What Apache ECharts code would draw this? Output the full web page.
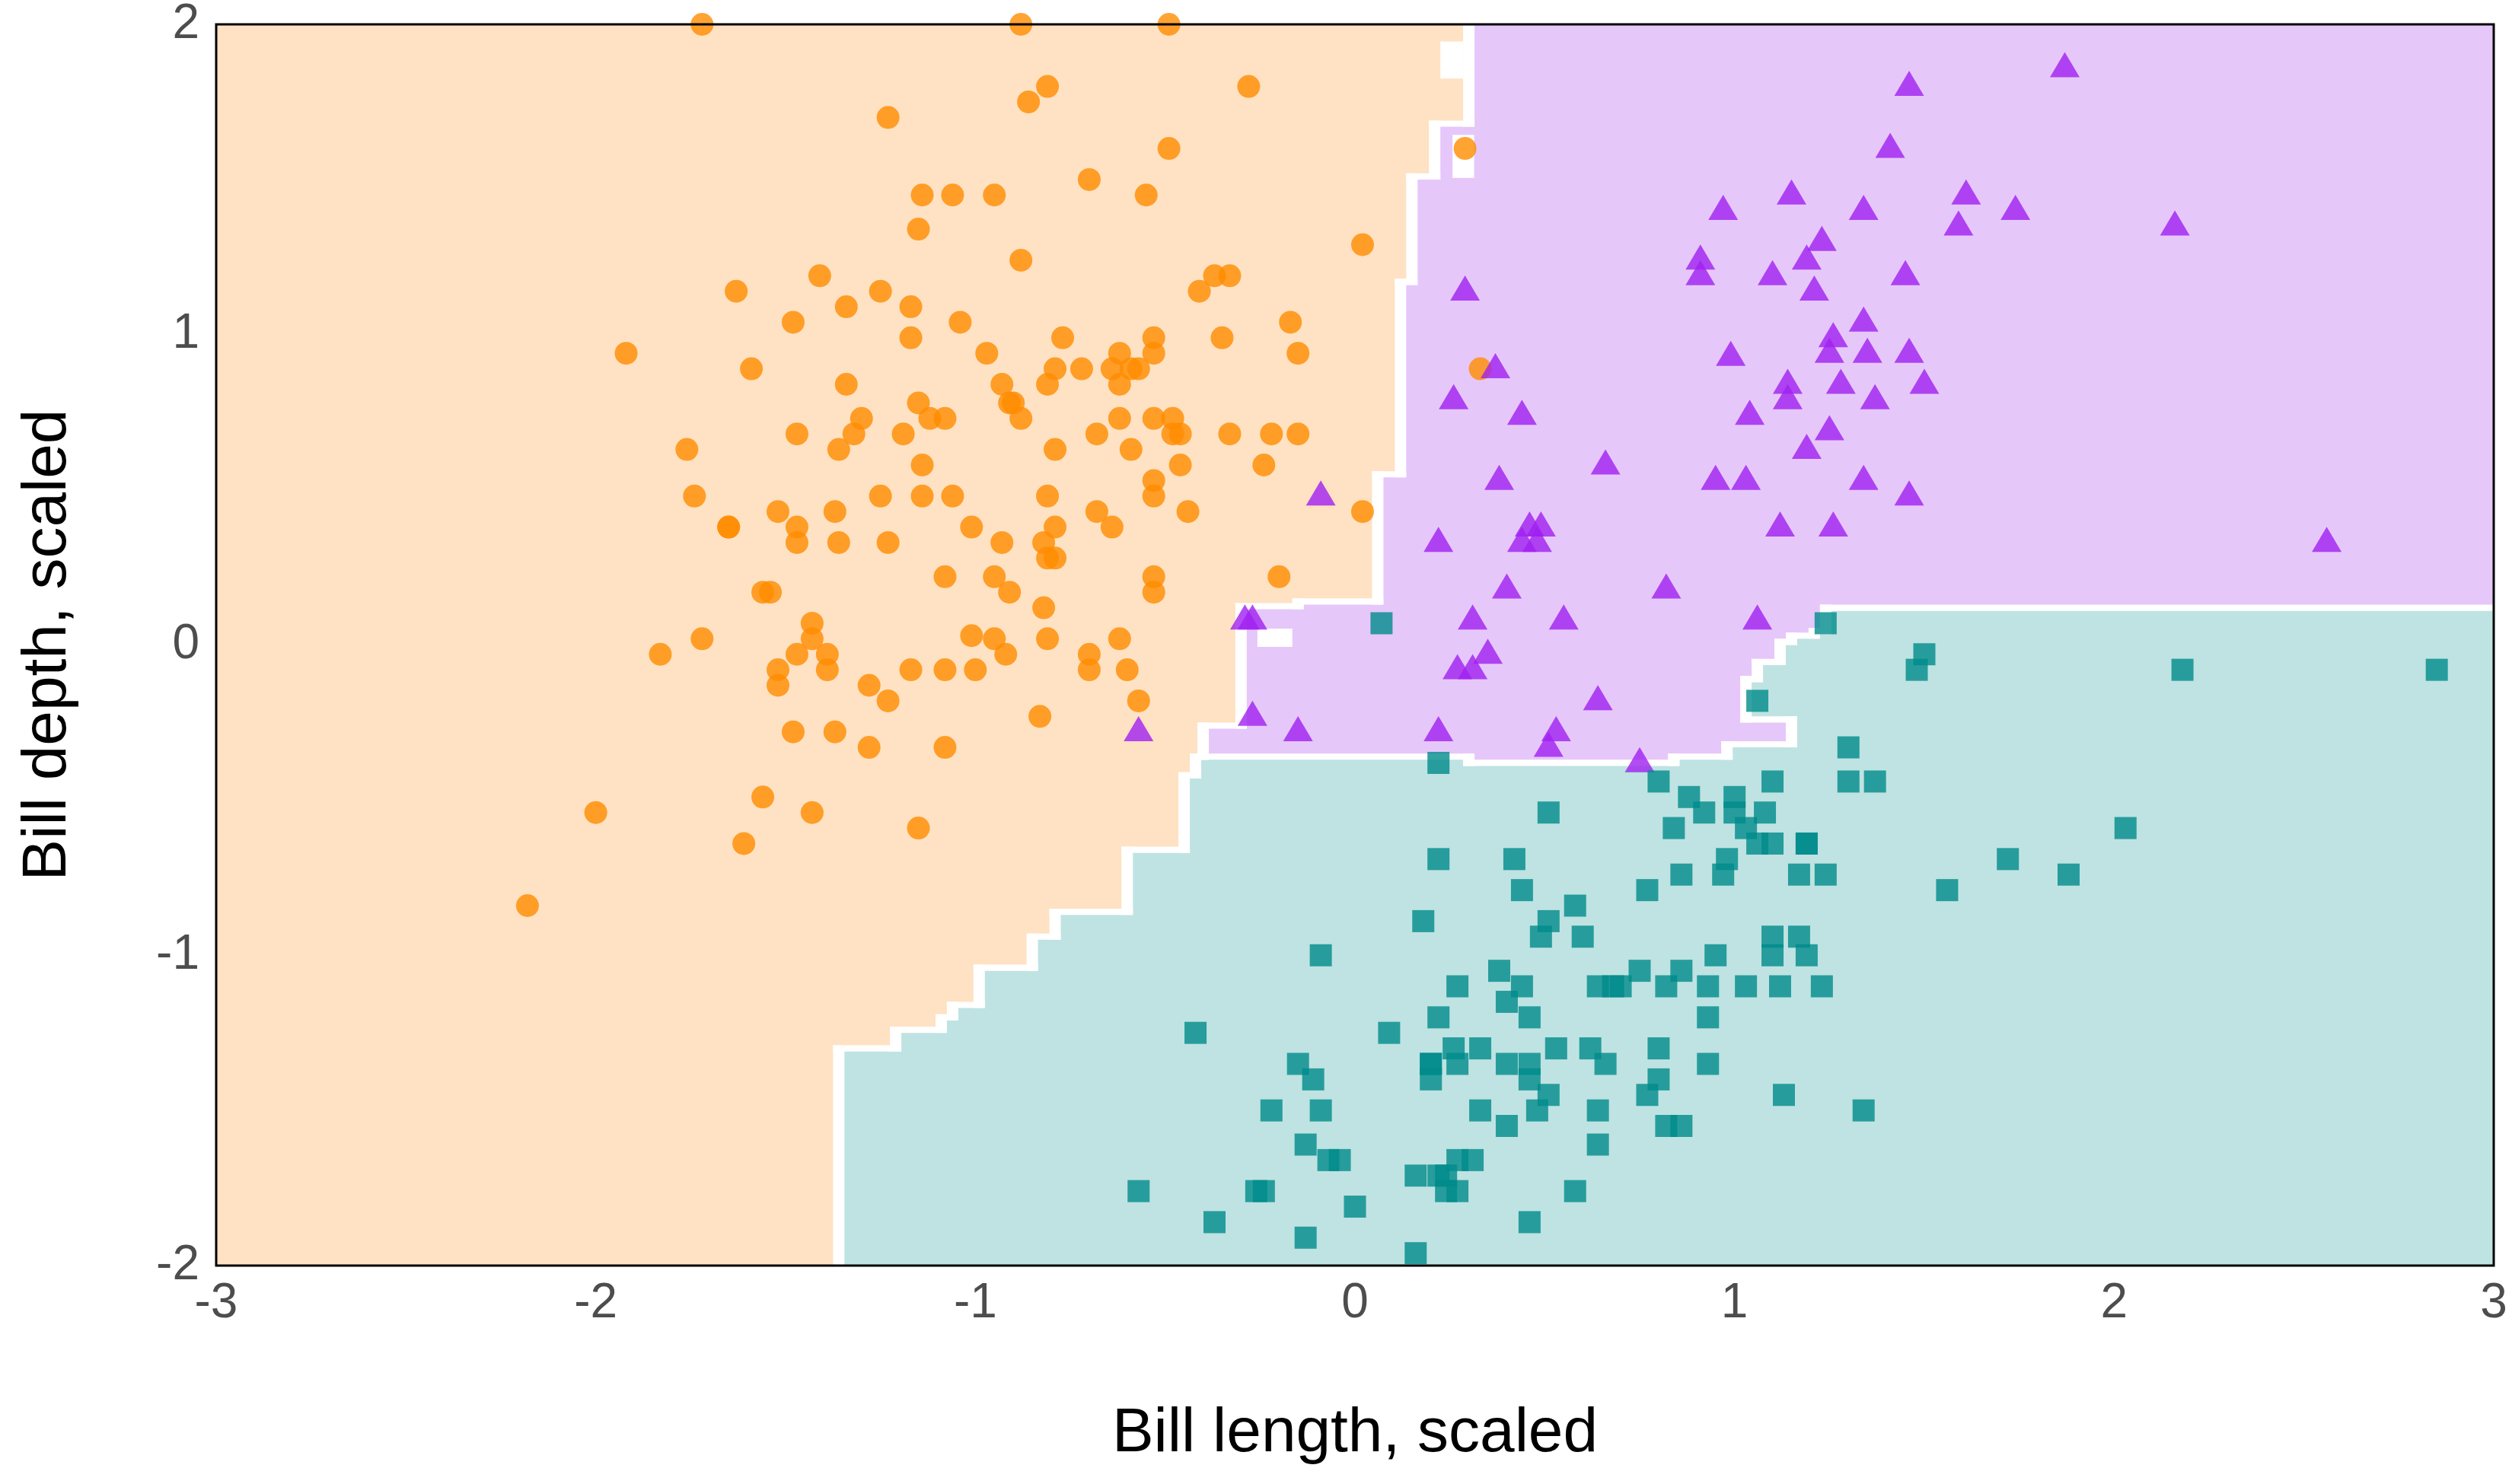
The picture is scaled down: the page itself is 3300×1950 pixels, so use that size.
<!DOCTYPE html>
<html>
<head>
<meta charset="utf-8">
<title>Penguin species decision regions</title>
<script src="https://cdn.jsdelivr.net/npm/echarts@6/dist/echarts.min.js"></script>
<style>
    html, body { margin: 0; padding: 0; background: #ffffff; }
    #chart { width: 3300px; height: 1950px; }
</style>
</head>
<body>
<div id="chart"></div>
<script>
// Scaled bill length (x) / bill depth (y) per species
const adelie = [
    [-1.72, 2.00], [-1.23, 1.70], [-1.14, 1.45], [-1.06, 1.45], [-1.15, 1.34], [-1.41, 1.19], [-1.63, 1.14],
    [-1.25, 1.14], [-1.34, 1.09], [-1.17, 1.09], [-1.48, 1.04], [-1.04, 1.04], [-1.17, 0.99], [-1.92, 0.94],
    [-1.59, 0.89], [-1.34, 0.84], [-1.15, 0.78], [-1.30, 0.73], [-1.12, 0.73], [-1.08, 0.73], [-1.47, 0.68],
    [-1.32, 0.68], [-1.19, 0.68], [-1.76, 0.63], [-1.36, 0.63], [-1.14, 0.58], [-1.74, 0.48], [-1.25, 0.48],
    [-1.14, 0.48], [-1.06, 0.48], [-1.52, 0.43], [-1.37, 0.43], [-1.65, 0.38], [-1.65, 0.38], [-1.47, 0.38],
    [-1.01, 0.38], [-1.47, 0.33], [-1.36, 0.33], [-1.23, 0.33], [-1.08, 0.22], [-1.56, 0.17], [-1.54, 0.17],
    [-1.43, 0.07], [-1.43, 0.02], [-1.72, 0.02], [-1.01, 0.03],
    [-0.88, 2.00], [-0.49, 2.00], [-0.81, 1.80], [-0.86, 1.75], [-0.28, 1.80], [-0.49, 1.60], [0.29, 1.60],
    [-0.70, 1.50], [-0.95, 1.45], [-0.55, 1.45], [0.02, 1.29], [-0.88, 1.24], [-0.37, 1.19], [-0.33, 1.19],
    [-0.41, 1.14], [-0.17, 1.04], [-0.77, 0.99], [-0.53, 0.99], [-0.35, 0.99], [-0.97, 0.94], [-0.62, 0.94],
    [-0.53, 0.94], [-0.15, 0.94], [-0.79, 0.89], [-0.72, 0.89], [-0.64, 0.89], [-0.59, 0.89], [-0.57, 0.89],
    [-0.93, 0.84], [-0.81, 0.84], [-0.62, 0.84], [-0.91, 0.78], [-0.90, 0.78], [-0.88, 0.73], [-0.62, 0.73],
    [-0.53, 0.73], [-0.48, 0.73], [-0.68, 0.68], [-0.48, 0.68], [-0.46, 0.68], [-0.33, 0.68], [-0.22, 0.68],
    [-0.15, 0.68], [-0.79, 0.63], [-0.59, 0.63], [-0.46, 0.58], [-0.24, 0.58], [-0.53, 0.53], [-0.53, 0.48],
    [-0.81, 0.48], [-0.68, 0.43], [-0.44, 0.43], [0.02, 0.43], [-0.79, 0.38], [-0.64, 0.38], [-0.93, 0.33],
    [-0.82, 0.33], [-0.81, 0.28], [-0.79, 0.28], [-0.95, 0.22], [-0.53, 0.22], [-0.20, 0.22], [-0.91, 0.17],
    [-0.53, 0.17], [-0.82, 0.12], [-0.95, 0.02], [-0.81, 0.02], [-0.62, 0.02], [0.33, 0.89],
    [-1.83, -0.03], [-1.47, -0.03], [-1.39, -0.03], [-1.52, -0.08], [-1.39, -0.08], [-1.17, -0.08],
    [-1.08, -0.08], [-1.00, -0.08], [-1.52, -0.13], [-1.28, -0.13], [-1.23, -0.18], [-1.48, -0.28],
    [-1.37, -0.28], [-1.28, -0.33], [-1.08, -0.33], [-1.56, -0.49], [-2.00, -0.54], [-1.43, -0.54],
    [-1.15, -0.59], [-1.61, -0.64], [-2.18, -0.84],
    [-0.92, -0.03], [-0.70, -0.03], [-0.70, -0.08], [-0.60, -0.08], [-0.57, -0.18], [-0.83, -0.23],
];

const chinstrap = [
    [0.97, 1.41], [0.91, 1.25], [0.91, 1.20], [0.29, 1.15], [0.99, 0.94], [0.37, 0.90], [0.26, 0.80],
    [0.44, 0.75], [0.66, 0.59], [0.38, 0.54], [0.95, 0.54], [0.46, 0.39], [0.49, 0.39], [0.22, 0.34],
    [0.44, 0.34], [0.48, 0.34], [0.40, 0.19], [0.82, 0.19], [-0.29, 0.09], [-0.27, 0.09], [0.31, 0.09],
    [0.55, 0.09], [-0.09, 0.49],
    [1.46, 1.81], [1.87, 1.87], [1.41, 1.61], [1.15, 1.46], [1.61, 1.46], [1.34, 1.41], [1.74, 1.41],
    [1.59, 1.36], [2.16, 1.36], [1.23, 1.31], [1.19, 1.25], [1.10, 1.20], [1.45, 1.20], [1.21, 1.15],
    [1.34, 1.05], [1.26, 1.00], [1.25, 0.95], [1.35, 0.95], [1.46, 0.95], [1.14, 0.85], [1.28, 0.85],
    [1.50, 0.85], [1.14, 0.80], [1.37, 0.80], [1.04, 0.75], [1.25, 0.70], [1.19, 0.64], [1.03, 0.54],
    [1.34, 0.54], [1.46, 0.49], [1.12, 0.39], [1.26, 0.39], [2.56, 0.34], [1.06, 0.09],
    [0.35, -0.02], [0.27, -0.07], [0.31, -0.07], [0.64, -0.17], [-0.27, -0.22], [-0.15, -0.27],
    [0.22, -0.27], [0.53, -0.27], [0.51, -0.32], [0.75, -0.37], [-0.57, -0.27],
];

const gentoo = [
    [0.07, 0.07], [1.24, 0.07],
    [0.22, -0.38], [0.80, -0.44], [0.88, -0.49], [0.92, -0.54], [0.51, -0.54], [0.84, -0.59], [0.22, -0.69],
    [0.42, -0.69], [0.98, -0.69], [0.86, -0.74], [0.97, -0.74], [0.44, -0.79], [0.77, -0.79], [0.58, -0.84],
    [0.51, -0.89], [0.18, -0.89], [0.49, -0.94], [0.60, -0.94], [-0.09, -1.00], [0.95, -1.00], [0.38, -1.05],
    [0.75, -1.05], [0.86, -1.05], [0.27, -1.10], [0.44, -1.10], [0.64, -1.10], [0.68, -1.10], [0.70, -1.10],
    [0.82, -1.10], [0.93, -1.10], [0.40, -1.15], [0.22, -1.20], [0.46, -1.20], [0.93, -1.20], [-0.42, -1.25],
    [0.09, -1.25], [0.26, -1.30], [0.33, -1.30], [0.53, -1.30], [0.62, -1.30], [0.80, -1.30], [-0.15, -1.35],
    [0.20, -1.35], [0.20, -1.35], [0.27, -1.35], [0.40, -1.35], [0.46, -1.35], [0.66, -1.35], [0.93, -1.35],
    [-0.11, -1.40], [0.20, -1.40], [0.46, -1.40], [0.80, -1.40], [0.51, -1.45], [0.77, -1.45], [-0.22, -1.50],
    [-0.09, -1.50], [0.33, -1.50], [0.48, -1.50], [0.64, -1.50], [0.40, -1.55], [0.82, -1.55], [0.86, -1.55],
    [-0.13, -1.61], [0.64, -1.61], [-0.07, -1.66], [-0.04, -1.66], [0.27, -1.66], [0.31, -1.66], [0.16, -1.71],
    [0.22, -1.71], [0.24, -1.71], [-0.57, -1.76], [-0.26, -1.76], [-0.24, -1.76], [0.24, -1.76], [0.27, -1.76],
    [0.58, -1.76], [0.00, -1.81], [-0.37, -1.86], [0.46, -1.86], [-0.13, -1.91], [0.16, -1.96],
    [1.50, -0.03], [1.48, -0.08], [2.18, -0.08], [2.85, -0.08], [1.06, -0.18], [1.30, -0.33], [1.10, -0.44],
    [1.30, -0.44], [1.37, -0.44], [1.00, -0.49], [1.00, -0.54], [1.03, -0.59], [1.08, -0.54], [1.06, -0.64],
    [1.10, -0.64], [1.19, -0.64], [1.19, -0.64], [2.03, -0.59], [1.72, -0.69], [1.17, -0.74], [1.24, -0.74],
    [1.88, -0.74], [1.56, -0.79], [1.10, -0.94], [1.17, -0.94], [1.10, -1.00], [1.19, -1.00], [1.03, -1.10],
    [1.12, -1.10], [1.23, -1.10], [1.13, -1.45], [1.34, -1.50],
];

// Decision boundaries of the classifier grid (cell centres of the white border cells)
// orange | purple, from the top edge down to the three-way junction
const adelieEdge = [
    [0.30, 2.00], [0.30, 1.68], [0.21, 1.68], [0.21, 1.51], [0.15, 1.51], [0.15, 1.17], [0.12, 1.17],
    [0.12, 0.55], [0.06, 0.55], [0.06, 0.14], [-0.15, 0.14], [-0.15, 0.125], [-0.30, 0.125], [-0.30, -0.26],
    [-0.40, -0.26], [-0.40, -0.36],
];
// orange | teal, junction down to the bottom edge
const lowerLeftEdge = [
    [-0.40, -0.36], [-0.42, -0.36], [-0.42, -0.42], [-0.45, -0.42], [-0.45, -0.66], [-0.60, -0.66],
    [-0.60, -0.86], [-0.79, -0.86], [-0.79, -0.94], [-0.85, -0.94], [-0.85, -1.04], [-0.99, -1.04],
    [-0.99, -1.16], [-1.06, -1.16], [-1.06, -1.20], [-1.09, -1.20], [-1.09, -1.24], [-1.21, -1.24],
    [-1.21, -1.30], [-1.36, -1.30], [-1.36, -2.00],
];
// purple | teal, junction across to the right edge
const lowerRightEdge = [
    [-0.40, -0.36], [0.30, -0.36], [0.30, -0.38], [0.84, -0.38], [0.84, -0.36], [0.98, -0.36], [0.98, -0.32],
    [1.15, -0.32], [1.15, -0.24], [1.03, -0.24], [1.03, -0.11], [1.06, -0.11], [1.06, -0.055], [1.12, -0.055],
    [1.12, 0.01], [1.15, 0.01], [1.15, 0.03], [1.21, 0.03], [1.21, 0.045], [1.24, 0.045], [1.24, 0.12],
    [3.00, 0.12],
];
// loose white cells [x0, y0, x1, y1]
const whiteBlocks = [
    [0.225, 1.825, 0.285, 1.945],
    [0.257, 1.505, 0.314, 1.644],
    [-0.257, -0.006, -0.165, 0.053],
];

const xMin = -3, xMax = 3, yMin = -2, yMax = 2;
const cellHalfX = 0.015, cellHalfY = 0.01;

const lineColors = { adelie: "#ff8c00", chinstrap: "#a020f0", gentoo: "#008b8b" };
const regionColors = { adelie: "#fee2c3", chinstrap: "#e6c7fa", gentoo: "#bfe3e2" };

const rev = (arr) => arr.slice().reverse();

const regions = [
    { color: regionColors.adelie,
      points: [[xMin, yMax], ...adelieEdge, ...lowerLeftEdge.slice(1), [xMin, yMin]] },
    { color: regionColors.chinstrap,
      points: [[xMax, yMax], ...rev(lowerRightEdge), ...rev(adelieEdge.slice(0, -1))] },
    { color: regionColors.gentoo,
      points: [...lowerRightEdge, [xMax, yMin], ...rev(lowerLeftEdge.slice(1))] },
];

const edgeSegments = [];
for (const path of [adelieEdge, lowerLeftEdge, lowerRightEdge]) {
    for (let i = 1; i < path.length; i++) {
        edgeSegments.push([path[i - 1][0], path[i - 1][1], path[i][0], path[i][1]]);
    }
}

function whiteRect(api, x0, y0, x1, y1, padX, padY) {
    const a = api.coord([Math.min(x0, x1) - padX, Math.max(y0, y1) + padY]);
    const b = api.coord([Math.max(x0, x1) + padX, Math.min(y0, y1) - padY]);
    return {
        type: "rect",
        shape: { x: a[0], y: a[1], width: b[0] - a[0], height: b[1] - a[1] },
        style: { fill: "#ffffff" },
    };
}

const textFont = "Liberation Sans, Arial, sans-serif";

const chart = echarts.init(document.getElementById("chart"), null, { renderer: "canvas" });

chart.setOption({
    animation: false,
    backgroundColor: "#ffffff",
    textStyle: { fontFamily: textFont },
    grid: {
        left: 284, right: 24, top: 24, bottom: 287,
        show: true, borderColor: "#000000", borderWidth: 3,
        backgroundColor: "transparent", z: 10,
    },
    xAxis: {
        type: "value", min: xMin, max: xMax, interval: 1,
        name: "Bill length, scaled", nameLocation: "middle", nameGap: 180,
        nameTextStyle: { color: "#000000", fontSize: 82, fontFamily: textFont },
        axisLine: { show: false }, axisTick: { show: false }, splitLine: { show: false },
        axisLabel: { color: "#4d4d4d", fontSize: 64, margin: 18, fontFamily: textFont,
                     showMinLabel: true, showMaxLabel: true },
    },
    yAxis: {
        type: "value", min: yMin, max: yMax, interval: 1,
        name: "Bill depth, scaled", nameLocation: "middle", nameGap: 180, nameRotate: 90,
        nameTextStyle: { color: "#000000", fontSize: 82, fontFamily: textFont },
        axisLine: { show: false }, axisTick: { show: false }, splitLine: { show: false },
        axisLabel: { color: "#4d4d4d", fontSize: 64, margin: 22, fontFamily: textFont,
                     showMinLabel: true, showMaxLabel: true },
    },
    series: [
        {
            type: "custom", name: "regions", z: 1, clip: true, silent: true,
            data: regions.map((r, i) => [i, 0]),
            renderItem: (params, api) => {
                const r = regions[params.dataIndex];
                return {
                    type: "polygon",
                    shape: { points: r.points.map((p) => api.coord(p)) },
                    style: { fill: r.color },
                };
            },
        },
        {
            type: "custom", name: "boundary", z: 2, clip: true, silent: true,
            data: edgeSegments,
            renderItem: (params, api) => whiteRect(api, api.value(0), api.value(1), api.value(2), api.value(3),
                                                   cellHalfX, cellHalfY),
        },
        {
            type: "custom", name: "white cells", z: 2, clip: true, silent: true,
            data: whiteBlocks,
            renderItem: (params, api) => whiteRect(api, api.value(0), api.value(1), api.value(2), api.value(3), 0, 0),
        },
        {
            type: "scatter", name: "Adelie", z: 3, data: adelie,
            symbol: "circle", symbolSize: 30,
            itemStyle: { color: lineColors.adelie, opacity: 0.8 },
        },
        {
            type: "scatter", name: "Chinstrap", z: 3, data: chinstrap,
            symbol: "triangle", symbolSize: [39, 33],
            itemStyle: { color: lineColors.chinstrap, opacity: 0.8 },
        },
        {
            type: "scatter", name: "Gentoo", z: 3, data: gentoo,
            symbol: "rect", symbolSize: 29,
            itemStyle: { color: lineColors.gentoo, opacity: 0.8 },
        },
    ],
});

window.addEventListener("resize", () => chart.resize());
</script>
</body>
</html>
